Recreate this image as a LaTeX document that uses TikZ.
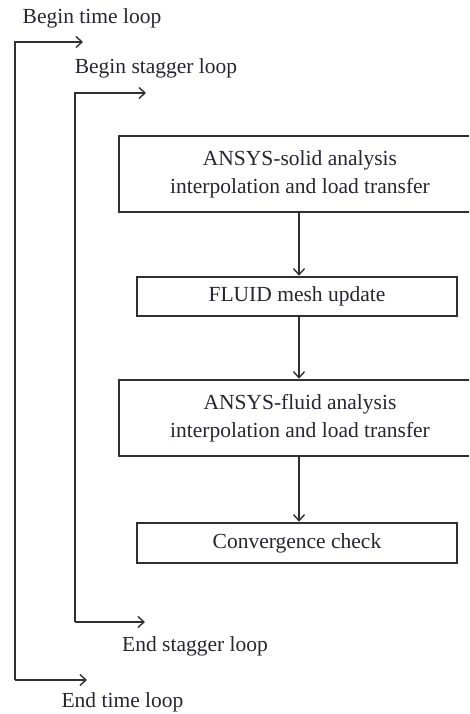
\documentclass[tikz,border=0pt]{standalone}
\usepackage{fontspec}
\setmainfont{Liberation Serif}
\usetikzlibrary{arrows.meta}
\definecolor{ln}{HTML}{303030}
\definecolor{tx}{HTML}{262633}
\begin{document}
\begin{tikzpicture}[x=1pt,y=-1pt,
  lbl/.style={text=tx,font=\fontsize{21.5}{28}\selectfont,inner sep=0pt},
  stepbox/.style={draw=ln,line width=2.6pt,fill=white,inner sep=0pt,align=center,
    text=tx,font=\fontsize{21.5}{28}\selectfont},
  arr/.style={draw=ln,line width=1.8pt,-{Straight Barb[length=6pt,width=11pt,line width=1.4pt]}},
  loopline/.style={draw=ln,line width=2.4pt,-{Straight Barb[length=6pt,width=11pt,line width=1.4pt]}}]
\useasboundingbox (0,0) rectangle (469,714);
\clip (0,0) rectangle (469,714);
% labels
\node[lbl] (tb) at (92,18) {Begin time loop};
\node[lbl] (sb) at (156,68) {Begin stagger loop};
\node[lbl] (se) at (195,646) {End stagger loop};
\node[lbl] (te) at (122.5,702) {End time loop};
% boxes
\node[stepbox,minimum width=362pt,minimum height=76pt] (b1) at (300,174)
  {ANSYS-solid analysis\\interpolation and load transfer};
\node[stepbox,minimum width=320pt,minimum height=39pt] (b2) at (297,296.5)
  {FLUID mesh update};
\node[stepbox,minimum width=362pt,minimum height=76pt] (b3) at (300,418)
  {ANSYS-fluid analysis\\interpolation and load transfer};
\node[stepbox,minimum width=320pt,minimum height=40pt] (b4) at (297,543)
  {Convergence check};
% flow arrows
\draw[arr] ([xshift=-1pt]b1.south) -- ([xshift=-1pt]b1.south |- b2.north);
\draw[arr] ([xshift=2pt]b2.south) -- ([xshift=2pt]b2.south |- b3.north);
\draw[arr] ([xshift=-1pt]b3.south) -- ([xshift=-1pt]b3.south |- b4.north);
% loop coordinates
\coordinate (tTopEnd) at (83,42);
\coordinate (tBotEnd) at (87,680);
\coordinate (sTopEnd) at (146,93);
\coordinate (sBotEnd) at (145,622);
\coordinate (tCorner) at (14.7,680);
\coordinate (sCorner) at (75,622);
% loops
\draw[loopline] (tCorner) |- (tTopEnd);
\draw[loopline] (tCorner) -- (tBotEnd);
\draw[loopline] (sCorner) |- (sTopEnd);
\draw[loopline] (sCorner) -- (sBotEnd);
\end{tikzpicture}
\end{document}
